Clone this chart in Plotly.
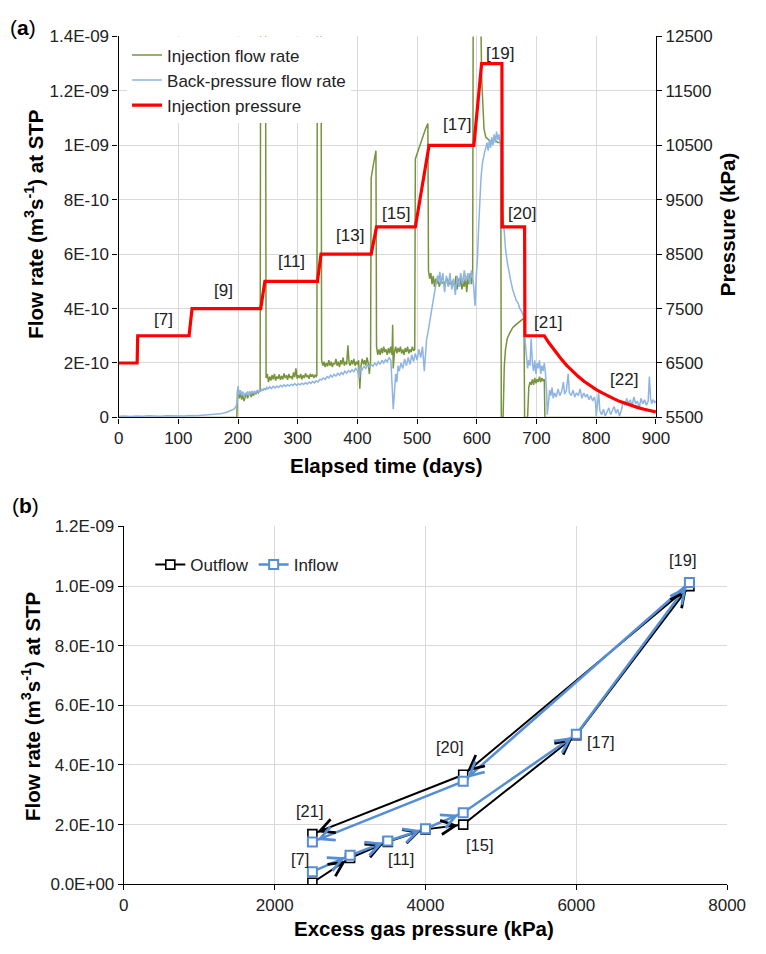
import math
import numpy as np
import plotly.graph_objects as go

W, H = 766, 954
FONT = "Liberation Sans, Arial, sans-serif"

# ---------------- panel (a): flow rates and injection pressure vs time ----------------
# Injection flow rate (units of 1E-10 m3/s)
inj_days = [0, 198, 199, 200, 202, 204, 206, 208, 210, 212, 214, 216, 218, 220, 222, 224, 226, 228, 230,
            232, 234, 236, 237, 238, 246, 247, 249, 251, 253, 255, 257, 259, 261, 263, 265, 267, 269, 271,
            273, 275, 277, 279, 281, 283, 285, 287, 289, 291, 293, 295, 297, 299, 301, 303, 305, 307, 309,
            311, 313, 315, 317, 319, 321, 323, 325, 327, 329, 331, 332, 333, 339, 340, 342, 344, 346, 348,
            350, 352, 354, 356, 358, 360, 362, 364, 366, 368, 370, 372, 374, 376, 378, 380, 382, 384, 386,
            388, 390, 392, 394, 396, 398, 400, 402, 404, 406, 408, 410, 412, 414, 416, 418, 420, 422, 423,
            426, 429, 431, 432, 434, 436, 438, 440, 442, 444, 446, 448, 450, 452, 454, 456, 458, 459, 460,
            462, 464, 466, 468, 470, 472, 474, 476, 478, 480, 482, 484, 486, 488, 490, 492, 494, 496, 497,
            500, 505, 510, 514, 518, 519, 521, 523, 525, 527, 529, 531, 533, 535, 537, 540, 545, 550, 555,
            560, 563, 565, 567, 569, 571, 573, 575, 577, 579, 581, 583, 585, 587, 589, 591, 593, 594, 606,
            608, 610, 612, 615, 620, 625, 630, 635, 640, 641, 644, 646, 648, 651, 655, 660, 665, 670, 675,
            679, 680, 685, 687, 689, 691, 693, 695, 697, 699, 701, 703, 705, 707, 709, 711, 713, 714, 900]
inj_rate = [0, 0, 0.95, 1.05, 0.7, 0.9, 0.65, 0.85, 0.6, 0.8, 0.9, 0.7, 0.85, 0.95, 0.75, 0.9, 0.8, 0.95, 0.85,
            0.95, 0.9, 1.0, 0.95, 16, 16, 1.45, 1.6, 1.3, 1.5, 1.35, 1.55, 1.4, 1.6, 1.35, 1.5, 1.42, 1.58, 1.38,
            1.52, 1.4, 1.62, 1.45, 1.55, 1.38, 1.6, 1.45, 1.52, 1.4, 1.65, 1.48, 1.8, 1.42, 1.55, 1.45, 1.6, 1.4, 1.55,
            1.45, 1.62, 1.48, 1.55, 1.42, 1.6, 1.5, 1.58, 1.45, 1.55, 1.5, 1.55, 16, 16, 2.1, 1.9, 2.05, 1.85, 2.0,
            1.88, 2.1, 1.9, 2.05, 1.85, 2.0, 1.95, 2.15, 1.9, 2.05, 1.85, 2.1, 1.95, 2.2, 1.9, 2.05, 1.95, 2.65, 2.0,
            1.9, 2.1, 1.95, 2.15, 1.9, 2.05, 1.95, 2.1, 1.05, 1.9, 2.15, 1.95, 2.1, 1.9, 2.2, 2.0, 1.6, 2.1, 8.8,
            9.2, 9.5, 9.8, 2.6, 2.3, 2.5, 2.3, 2.55, 2.35, 2.6, 2.4, 2.5, 2.3, 2.55, 2.35, 2.6, 2.3, 3.4, 1.8,
            2.4, 2.6, 2.35, 2.55, 2.4, 2.6, 2.35, 2.5, 2.3, 2.55, 2.4, 2.6, 2.35, 2.5, 2.4, 2.6, 2.45, 2.5, 9.5,
            9.7, 10.0, 10.3, 10.6, 10.8, 5.4, 5.1, 5.3, 4.9, 5.2, 4.8, 5.1, 4.9, 5.2, 4.8, 5.0, 4.9, 5.1, 4.9,
            5.0, 4.8, 5.2, 4.7, 5.1, 4.8, 5.2, 4.7, 5.0, 4.8, 5.2, 4.6, 5.1, 4.9, 5.3, 4.9, 5.2, 16, 16,
            12.5, 11.2, 10.6, 10.3, 10.2, 10.1, 10.2, 10.1, 10.1, 0, 0, 1.9, 2.5, 2.9, 3.1, 3.3, 3.4, 3.5, 3.6,
            3.65, 0, 0, 1.1, 1.3, 1.2, 1.4, 1.2, 1.45, 1.25, 1.4, 1.3, 1.5, 1.3, 1.45, 1.35, 1.4, 0, 0]

# Back-pressure flow rate (units of 1E-10 m3/s)
bp_days = [0, 10, 20, 30, 40, 50, 60, 70, 80, 90, 100, 110, 120, 130, 140, 150, 160, 170, 180, 186, 190, 194,
           197, 199, 200, 202, 204, 206, 208, 210, 212, 214, 216, 218, 220, 222, 224, 226, 228, 230, 232, 234,
           236, 238, 240, 242, 244, 246, 248, 250, 253, 256, 259, 262, 265, 268, 271, 274, 277, 280, 283, 286,
           289, 292, 295, 298, 301, 304, 307, 310, 313, 316, 319, 322, 325, 328, 331, 334, 337, 340, 343, 346,
           349, 352, 355, 358, 361, 364, 367, 370, 373, 376, 379, 382, 385, 388, 391, 394, 397, 400, 403, 405,
           408, 411, 414, 417, 420, 423, 426, 429, 432, 435, 438, 441, 444, 447, 450, 453, 456, 458, 460, 462,
           464, 466, 468, 470, 473, 476, 479, 482, 485, 488, 491, 494, 497, 500, 503, 506, 509, 512, 514, 516,
           518, 520, 522, 524, 526, 528, 530, 532, 534, 536, 538, 540, 543, 546, 549, 552, 555, 558, 561, 564,
           567, 570, 573, 576, 579, 582, 585, 588, 591, 594, 597, 599, 601, 603, 605, 607, 609, 611, 613, 615,
           617, 619, 621, 623, 625, 627, 629, 631, 633, 635, 637, 639, 640, 641, 643, 646, 648, 651, 654, 657,
           660, 663, 666, 669, 672, 675, 678, 680, 681, 683, 685, 687, 689, 691, 693, 695, 697, 699, 701, 703,
           705, 707, 709, 711, 713, 715, 717, 718, 720, 722, 724, 726, 728, 730, 733, 736, 739, 742, 745, 747,
           750, 753, 755, 758, 761, 764, 767, 770, 773, 776, 779, 782, 785, 788, 791, 794, 797, 799, 800, 802,
           804, 806, 809, 812, 815, 818, 821, 824, 827, 830, 833, 836, 839, 842, 845, 848, 851, 854, 857, 860,
           863, 866, 869, 872, 875, 878, 881, 884, 887, 889, 891, 893, 895, 898, 900]
bp_rate = [0.04, 0.05, 0.03, 0.05, 0.04, 0.06, 0.05, 0.04, 0.06, 0.05, 0.06, 0.05, 0.07, 0.06, 0.08, 0.09, 0.1,
           0.13, 0.18, 0.22, 0.27, 0.32, 0.42, 0.6, 1.15, 0.85, 1.0, 0.8, 0.95, 0.75, 0.9, 0.82, 0.95, 0.8, 0.92,
           0.85, 0.98, 0.88, 0.95, 0.9, 1.0, 0.92, 1.02, 0.95, 1.05, 0.98, 1.08, 1.0, 1.1, 1.05, 1.12, 1.06, 1.14,
           1.08, 1.15, 1.1, 1.18, 1.12, 1.2, 1.14, 1.2, 1.15, 1.22, 1.17, 1.24, 1.18, 1.23, 1.2, 1.26, 1.21, 1.28,
           1.22, 1.3, 1.25, 1.32, 1.27, 1.35, 1.3, 1.4, 1.38, 1.45, 1.4, 1.5, 1.45, 1.55, 1.48, 1.58, 1.52, 1.62,
           1.55, 1.65, 1.58, 1.7, 1.62, 1.72, 1.66, 1.75, 1.68, 1.8, 1.72, 1.45, 1.82, 1.75, 1.88, 1.8, 1.92, 1.85,
           1.95, 1.88, 2.0, 1.92, 2.05, 1.95, 2.1, 2.0, 2.12, 2.05, 2.2, 2.1, 1.2, 0.3, 0.9, 1.6, 1.3, 1.9, 1.7,
           2.0, 1.8, 2.15, 1.9, 2.2, 1.95, 2.3, 2.05, 2.35, 2.1, 2.5, 2.2, 2.6, 1.7, 2.5, 2.9, 3.1, 3.4, 3.7, 3.95,
           4.2, 4.45, 4.7, 4.95, 5.2, 5.0, 5.35, 4.9, 5.3, 4.6, 5.2, 4.8, 5.3, 4.7, 5.1, 4.5, 5.2, 4.8, 5.3, 4.9,
           5.4, 5.0, 5.3, 4.9, 5.4, 5.0, 4.1, 5.2, 5.8, 7.0, 8.0, 8.8, 9.3, 9.6, 9.75, 9.9, 10.1, 9.8, 10.2, 9.9,
           10.3, 10.0, 10.4, 10.1, 10.5, 10.2, 10.4, 10.1, 9.8, 8.6, 7.5, 6.8, 6.2, 5.7, 5.3, 5.0, 4.7, 4.5, 4.3,
           4.2, 4.0, 3.9, 3.7, 3.6, 2.8, 2.2, 1.8, 2.1, 1.9, 2.9, 2.0, 1.7, 2.1, 1.6, 2.0, 1.8, 2.1, 1.6, 1.9,
           1.7, 2.0, 1.6, 0.9, 0.1, 0.6, 1.0, 0.8, 1.1, 0.7, 0.9, 0.75, 1.05, 0.8, 0.95, 1.3, 0.85, 1.0, 1.6,
           0.9, 0.8, 1.0, 0.75, 0.9, 0.8, 1.05, 0.7, 0.9, 0.75, 0.85, 0.65, 0.8, 0.6, 0.75, 0.5, 0.05, 0.4, 0.9,
           0.25, 0.1, 0.3, 0.05, 0.2, 0.35, 0.1, 0.25, 0.4, 0.15, 0.3, 0.05, 0.25, 0.6, 0.45, 0.7, 0.5, 0.65,
           0.4, 0.75, 0.5, 0.6, 0.35, 0.7, 0.5, 0.65, 0.45, 0.6, 1.5, 0.7, 0.5, 0.65, 0.55, 0.6]

# Injection pressure (kPa)
p_days = [0, 31, 32, 118, 123, 238, 245, 333, 339, 423, 432, 497, 520, 595, 608, 642, 642.5, 680, 680.5, 713,
          720, 730, 740, 750, 760, 770, 780, 790, 800, 810, 820, 830, 840, 850, 860, 870, 880, 890, 900]
p_kpa = [6500, 6500, 7000, 7000, 7500, 7500, 8000, 8000, 8500, 8500, 9000, 9000, 10500, 10500, 12000, 12000,
         9000, 9000, 7000, 7000, 6880, 6730, 6590, 6460, 6350, 6250, 6160, 6080, 6010, 5950, 5890, 5840, 5790,
         5750, 5710, 5680, 5650, 5620, 5600]

stage_text = ["[7]", "[9]", "[11]", "[13]", "[15]", "[17]", "[19]", "[20]", "[21]", "[22]"]
stage_day = [76, 175, 290, 387, 465, 566, 639, 675, 720, 846]
stage_kpa = [7300, 7830, 8370, 8850, 9240, 10890, 12180, 9240, 7240, 6190]

a_rate_ticks = [0, 2e-10, 4e-10, 6e-10, 8e-10, 1e-9, 1.2e-9, 1.4e-9]
a_rate_ticktext = ["0", "2E-10", "4E-10", "6E-10", "8E-10", "1E-09", "1.2E-09", "1.4E-09"]
a_kpa_ticks = [5500, 6500, 7500, 8500, 9500, 10500, 11500, 12500]
a_day_ticks = [0, 100, 200, 300, 400, 500, 600, 700, 800, 900]

# ---------------- panel (b): flow rate vs excess gas pressure ----------------
out_kpa = [2500, 3000, 3500, 4000, 4500, 6000, 7500, 4500, 2500]
out_rate = [0.05, 0.88, 1.42, 1.84, 2.0, 5.0, 10.0, 3.67, 1.68]      # 1E-10 m3/s
in_kpa = [2500, 3000, 3500, 4000, 4500, 6000, 7500, 4500, 2500]
in_rate = [0.42, 0.97, 1.45, 1.86, 2.4, 5.03, 10.12, 3.45, 1.42]     # 1E-10 m3/s

b_text = ["[7]", "[11]", "[15]", "[17]", "[19]", "[20]", "[21]"]
b_text_kpa = [2342, 3669, 4718, 6324, 7416, 4320, 2470]
b_text_rate = [0.86, 0.86, 1.3, 4.76, 10.89, 4.59, 2.46]

b_rate_ticks = [0, 2e-10, 4e-10, 6e-10, 8e-10, 1e-9, 1.2e-9]
b_rate_ticktext = ["0.0E+00", "2.0E-10", "4.0E-10", "6.0E-10", "8.0E-10", "1.0E-09", "1.2E-09"]
b_kpa_ticks = [0, 2000, 4000, 6000, 8000]

E10 = 1e-10

# ---------------- layout geometry (pixels -> paper fractions) ----------------
def xdom(l, r):
    return [l / W, r / W]

def ydom(top, bottom):
    return [1 - bottom / H, 1 - top / H]

dom_ax = xdom(117.3, 672.0)
dom_ay = ydom(28.0, 416.7)
dom_bx = xdom(122.7, 745.5)
dom_by = ydom(528.0, 893.0)

GRID = "#d9d9d9"
GREEN = "#77933C"
LBLUE = "#8EB4E3"
RED = "#FF0000"
BLUE = "#558ED5"
TXT = "#222222"

fig = go.Figure()

fig.add_trace(go.Scatter(x=inj_days, y=np.array(inj_rate) * E10, mode="lines", name="Injection flow rate",
                         line=dict(color=GREEN, width=1.5), xaxis="x", yaxis="y", legend="legend"))
fig.add_trace(go.Scatter(x=bp_days, y=np.array(bp_rate) * E10, mode="lines", name="Back-pressure flow rate",
                         line=dict(color=LBLUE, width=1.5), xaxis="x", yaxis="y", legend="legend"))
fig.add_trace(go.Scatter(x=p_days, y=p_kpa, mode="lines", name="Injection pressure",
                         line=dict(color=RED, width=3.2), xaxis="x", yaxis="y2", legend="legend"))

fig.add_trace(go.Scatter(x=out_kpa, y=np.array(out_rate) * E10, mode="lines+markers", name="Outflow",
                         line=dict(color="black", width=2),
                         marker=dict(symbol="square", size=9, color="white", line=dict(color="black", width=1.6)),
                         xaxis="x2", yaxis="y3", legend="legend2"))
fig.add_trace(go.Scatter(x=in_kpa, y=np.array(in_rate) * E10, mode="lines+markers", name="Inflow",
                         line=dict(color=BLUE, width=2.5),
                         marker=dict(symbol="square", size=9, color="white", line=dict(color=BLUE, width=2)),
                         xaxis="x2", yaxis="y3", legend="legend2"))

annotations = []

# stage labels on panel (a)
for t, d, p in zip(stage_text, stage_day, stage_kpa):
    annotations.append(dict(x=d, y=p, xref="x", yref="y2", text=t, showarrow=False,
                            xanchor="center", yanchor="middle",
                            font=dict(size=17, color=TXT, family=FONT)))

# stage labels on panel (b)
for t, k, r in zip(b_text, b_text_kpa, b_text_rate):
    annotations.append(dict(x=k, y=r * E10, xref="x2", yref="y3", text=t, showarrow=False,
                            xanchor="center", yanchor="middle",
                            font=dict(size=16.5, color=TXT, family=FONT)))

# arrowheads marking the loading path direction on panel (b)
px_per_kpa = (dom_bx[1] - dom_bx[0]) * W / 8000.0
px_per_rate = (dom_by[1] - dom_by[0]) * H / 1.2e-9

def path_arrows(xs, rs, color, width):
    ys = [r * E10 for r in rs]
    out = []
    for i in range(1, len(xs)):
        dx = (xs[i] - xs[i - 1]) * px_per_kpa
        dy = (ys[i] - ys[i - 1]) * px_per_rate
        L = math.hypot(dx, dy)
        tail = 16.0
        out.append(dict(x=xs[i], y=ys[i], ax=xs[i] - dx / L * tail / px_per_kpa,
                        ay=ys[i] - dy / L * tail / px_per_rate,
                        xref="x2", yref="y3", axref="x2", ayref="y3", text="", showarrow=True,
                        arrowhead=5, arrowsize=1.4, arrowwidth=width, arrowcolor=color, standoff=5))
    return out

annotations += path_arrows(out_kpa, out_rate, "black", 2)
annotations += path_arrows(in_kpa, in_rate, BLUE, 2)

# panel letters and axis titles
def paper_text(px, py, text, size, angle=0):
    return dict(x=px / W, y=1 - py / H, xref="paper", yref="paper", text=text, showarrow=False,
                xanchor="center", yanchor="middle", textangle=angle,
                font=dict(size=size, family=FONT, color="black"))

annotations += [
    paper_text(19, 19, "(<b>a</b>)", 21),
    paper_text(21, 507, "(<b>b</b>)", 21),
    paper_text(30, 220, "<b>Flow rate (m<sup>3</sup>s<sup>-1</sup>) at STP</b>", 20.5, -90),
    paper_text(746, 220, "<b>Pressure (kPa)</b>", 20.5, -90),
    paper_text(394, 466, "<b>Elapsed time (days)</b>", 20.5),
    paper_text(27, 712, "<b>Flow rate (m<sup>3</sup>s<sup>-1</sup>) at STP</b>", 20.5, -90),
    paper_text(433, 938, "<b>Excess gas pressure (kPa)</b>", 20.5),
]

tickfont = dict(size=17, family=FONT, color=TXT)
axis_common = dict(showline=True, linecolor="black", linewidth=1.3, ticks="outside", ticklen=5,
                   tickcolor="black", tickfont=tickfont, zeroline=False)

fig.update_layout(
    width=W, height=H,
    margin=dict(l=0, r=0, t=0, b=0),
    paper_bgcolor="white", plot_bgcolor="white",
    font=dict(family=FONT, color="black"),
    showlegend=True,
    xaxis=dict(domain=dom_ax, anchor="y", range=[0, 900], tickmode="array", tickvals=a_day_ticks,
               showgrid=True, gridcolor=GRID, gridwidth=1, **axis_common),
    yaxis=dict(domain=dom_ay, anchor="x", range=[0, 1.4e-9], tickmode="array", tickvals=a_rate_ticks,
               ticktext=a_rate_ticktext, showgrid=True, gridcolor=GRID, gridwidth=1, **axis_common),
    yaxis2=dict(overlaying="y", side="right", anchor="x", range=[5500, 12500], tickmode="array",
                tickvals=a_kpa_ticks, tickformat="d", showgrid=False, **axis_common),
    xaxis2=dict(domain=dom_bx, anchor="y3", range=[0, 8000], tickmode="array", tickvals=b_kpa_ticks,
                tickformat="d", showgrid=True, gridcolor=GRID, gridwidth=1, **axis_common),
    yaxis3=dict(domain=dom_by, anchor="x2", range=[0, 1.2e-9], tickmode="array", tickvals=b_rate_ticks,
                ticktext=b_rate_ticktext, showgrid=True, gridcolor=GRID, gridwidth=1, **axis_common),
    legend=dict(x=126 / W, y=1 - 29 / H, xanchor="left", yanchor="top", bgcolor="white",
                font=dict(size=17, family=FONT, color=TXT), tracegroupgap=0, itemwidth=30,
                borderwidth=0),
    legend2=dict(x=150 / W, y=1 - 549 / H, xanchor="left", yanchor="top", orientation="h",
                 bgcolor="rgba(255,255,255,0)", font=dict(size=17, family=FONT, color=TXT),
                 itemwidth=30),
    annotations=annotations,
)

fig.write_html("out.html")
